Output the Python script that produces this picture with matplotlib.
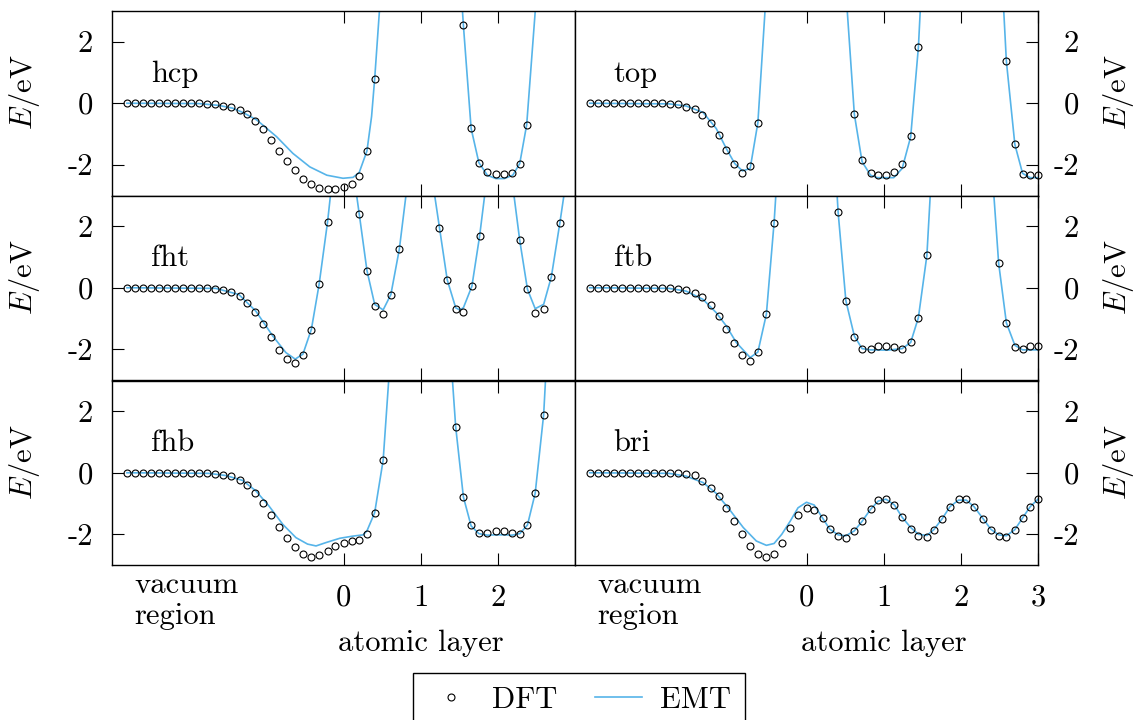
#!/usr/bin/env python3
"""DFT vs EMT energy profiles for six adsorption paths."""
import matplotlib
matplotlib.use("Agg")
import matplotlib.pyplot as plt
from matplotlib.lines import Line2D

plt.rcParams["font.family"] = "cmr10"
plt.rcParams["mathtext.fontset"] = "cm"
plt.rcParams["axes.formatter.use_mathtext"] = True
plt.rcParams["axes.unicode_minus"] = False
plt.rcParams["font.size"] = 22

EMT_COLOR = "#56b4e9"

# ---- hcp ----
hcp_dft_x = [-2.81, -2.71, -2.60, -2.50, -2.40, -2.29, -2.19, -2.08, -1.98, -1.87,
             -1.77, -1.67, -1.56, -1.46, -1.35, -1.25, -1.15, -1.05, -0.94, -0.84,
             -0.73, -0.63, -0.53, -0.42, -0.32, -0.21, -0.11, 0.00, 0.10, 0.20,
             0.30, 0.40, 1.55, 1.65, 1.75, 1.86, 1.97, 2.07, 2.18, 2.28, 2.37]
hcp_dft_y = [0, 0, 0, 0, 0, 0, 0, 0, 0, 0,
             -0.01, -0.04, -0.09, -0.13, -0.21, -0.36, -0.57, -0.85, -1.18, -1.54,
             -1.88, -2.18, -2.45, -2.62, -2.75, -2.78, -2.78, -2.73, -2.62, -2.35,
             -1.54, 0.79, 2.53, -0.82, -1.93, -2.25, -2.30, -2.30, -2.27, -1.96, -0.70]
hcp_emt_x = [-2.81, -1.88, -1.62, -1.44, -1.30, -1.13, -0.87, -0.66, -0.44, -0.22,
             -0.01, 0.12, 0.20, 0.30, 0.36, 0.40, 0.47,
             1.53, 1.55, 1.65, 1.75, 1.86, 1.97, 2.08, 2.19, 2.28, 2.37, 2.49]
hcp_emt_y = [0, -0.01, -0.07, -0.16, -0.31, -0.54, -1.09, -1.63, -2.07, -2.34,
             -2.44, -2.41, -2.25, -1.55, -0.43, 0.79, 3.3,
             3.3, 2.53, -0.82, -1.93, -2.34, -2.45, -2.45, -2.34, -1.96, -0.70, 3.3]

# ---- top ----
top_dft_x = [-2.81, -2.70, -2.60, -2.50, -2.39, -2.29, -2.18, -2.08, -1.97, -1.87,
             -1.77, -1.66, -1.56, -1.45, -1.35, -1.24, -1.14, -1.04, -0.94, -0.83,
             -0.73, -0.63, 0.62, 0.72, 0.83, 0.93, 1.03, 1.14, 1.24, 1.35, 1.45,
             2.59, 2.70, 2.80, 2.90, 3.00]
top_dft_y = [0, 0, 0, 0, 0, 0, 0, 0, 0, 0,
             -0.02, -0.04, -0.11, -0.20, -0.38, -0.65, -1.04, -1.51, -1.97, -2.28,
             -2.05, -0.63, -0.36, -1.86, -2.26, -2.32, -2.32, -2.25, -1.99, -1.07, 1.82,
             1.37, -1.34, -2.29, -2.32, -2.32]
top_emt_x = [-2.81, -1.78, -1.56, -1.34, -1.17, -1.04, -0.93, -0.83, -0.73, -0.63, -0.53,
             0.52, 0.62, 0.72, 0.83, 0.92, 1.13, 1.24, 1.35, 1.45, 1.48,
             2.55, 2.59, 2.70, 2.80, 2.90, 3.00]
top_emt_y = [0, -0.02, -0.09, -0.30, -0.82, -1.47, -1.96, -2.20, -2.12, -0.63, 3.3,
             3.3, -0.36, -1.90, -2.34, -2.42, -2.42, -2.12, -1.09, 1.82, 3.3,
             3.3, 1.37, -1.34, -2.28, -2.42, -2.42]

# ---- fht ----
fht_dft_x = [-2.81, -2.71, -2.60, -2.50, -2.40, -2.29, -2.19, -2.08, -1.98, -1.87,
             -1.77, -1.67, -1.56, -1.46, -1.35, -1.25, -1.15, -1.05, -0.94, -0.84,
             -0.73, -0.63, -0.53, -0.42, -0.32, -0.21, 0.20, 0.30, 0.40, 0.51, 0.61, 0.72,
             1.24, 1.34, 1.45, 1.55, 1.66, 1.76, 2.28, 2.38, 2.48, 2.59, 2.69, 2.80]
fht_dft_y = [0, 0, 0, 0, 0, 0, 0, 0, 0, 0,
             -0.02, -0.03, -0.08, -0.14, -0.27, -0.49, -0.79, -1.18, -1.59, -2.01,
             -2.32, -2.44, -2.18, -1.37, 0.11, 2.15, 2.40, 0.56, -0.59, -0.86, -0.22, 1.26,
             1.95, 0.26, -0.70, -0.78, 0.05, 1.68, 1.54, -0.05, -0.81, -0.68, 0.36, 2.11]
fht_emt_x = [-2.81, -1.66, -1.36, -1.14, -0.92, -0.75, -0.63, -0.53, -0.42, -0.32, -0.21, -0.16,
             0.15, 0.20, 0.30, 0.40, 0.51, 0.61, 0.72, 0.82,
             1.16, 1.24, 1.34, 1.45, 1.50, 1.55, 1.66, 1.76, 1.84,
             2.19, 2.28, 2.38, 2.48, 2.59, 2.69, 2.80, 2.87]
fht_emt_y = [0, -0.02, -0.22, -0.76, -1.57, -2.11, -2.32, -2.16, -1.35, 0.11, 2.15, 3.3,
             3.3, 2.40, 0.56, -0.54, -0.72, -0.22, 1.26, 3.3,
             3.3, 1.95, 0.26, -0.65, -0.72, -0.65, 0.05, 1.68, 3.3,
             3.3, 1.54, -0.05, -0.68, -0.54, 0.36, 2.11, 3.3]

# ---- ftb ----
ftb_dft_x = [-2.81, -2.70, -2.60, -2.50, -2.39, -2.29, -2.18, -2.08, -1.97, -1.87,
             -1.77, -1.66, -1.56, -1.45, -1.35, -1.24, -1.14, -1.04, -0.94, -0.83,
             -0.73, -0.63, -0.52, -0.42, 0.41, 0.51, 0.62, 0.72, 0.83, 0.93, 1.03, 1.14,
             1.24, 1.35, 1.45, 1.56, 2.49, 2.59, 2.70, 2.80, 2.90, 3.00]
ftb_dft_y = [0, 0, 0, 0, 0, 0, 0, 0, 0, 0,
             -0.01, -0.03, -0.08, -0.16, -0.31, -0.56, -0.91, -1.33, -1.79, -2.18,
             -2.38, -2.10, -0.86, 2.12, 2.45, -0.42, -1.60, -1.98, -1.98, -1.89, -1.89, -1.92,
             -1.98, -1.76, -0.97, 1.05, 0.80, -1.14, -1.92, -1.98, -1.89, -1.89]
ftb_emt_x = [-2.81, -1.78, -1.56, -1.34, -1.17, -1.04, -0.91, -0.73, -0.63, -0.52, -0.42, -0.39,
             0.39, 0.41, 0.51, 0.62, 0.72, 0.83, 1.05, 1.24, 1.35, 1.45, 1.56, 1.61,
             2.42, 2.49, 2.59, 2.70, 2.80, 2.90, 3.00]
ftb_emt_y = [0, -0.02, -0.11, -0.38, -0.81, -1.24, -1.78, -2.27, -2.09, -0.86, 2.12, 3.3,
             3.3, 2.45, -0.42, -1.57, -1.98, -2.02, -2.03, -1.98, -1.78, -0.97, 1.05, 3.3,
             3.3, 0.80, -1.14, -1.87, -2.02, -2.02, -2.02]

# ---- fhb ----
fhb_dft_x = [-2.81, -2.71, -2.60, -2.50, -2.40, -2.29, -2.19, -2.08, -1.98, -1.87,
             -1.77, -1.67, -1.56, -1.46, -1.35, -1.25, -1.15, -1.05, -0.94, -0.84,
             -0.73, -0.63, -0.53, -0.42, -0.32, -0.21, -0.11, 0.00, 0.10, 0.20, 0.30, 0.40, 0.51,
             1.45, 1.55, 1.65, 1.75, 1.86, 1.97, 2.07, 2.18, 2.28, 2.38, 2.48, 2.59]
fhb_dft_y = [0, 0, 0, 0, 0, 0, 0, 0, 0, 0,
             -0.01, -0.03, -0.08, -0.12, -0.23, -0.41, -0.66, -0.99, -1.37, -1.77,
             -2.13, -2.43, -2.65, -2.74, -2.68, -2.54, -2.39, -2.27, -2.22, -2.18, -1.98, -1.30, 0.41,
             1.49, -0.79, -1.71, -1.97, -1.95, -1.90, -1.90, -1.96, -1.98, -1.70, -0.67, 1.89]
fhb_emt_x = [-2.81, -1.75, -1.53, -1.31, -1.14, -0.97, -0.79, -0.62, -0.47, -0.36, -0.23,
             -0.05, 0.12, 0.25, 0.30, 0.40, 0.51, 0.59,
             1.40, 1.45, 1.55, 1.65, 1.75, 1.86, 1.97, 2.08, 2.18, 2.28, 2.38, 2.48, 2.59, 2.62]
fhb_emt_y = [0, -0.02, -0.09, -0.25, -0.59, -1.08, -1.68, -2.11, -2.32, -2.38, -2.27,
             -2.13, -2.06, -2.02, -1.89, -1.30, 0.41, 3.3,
             3.3, 1.49, -0.79, -1.73, -1.98, -2.03, -2.02, -2.02, -2.03, -1.98, -1.70, -0.67, 1.89, 3.3]

# ---- bri ----
bri_dft_x = [-2.81, -2.70, -2.60, -2.50, -2.39, -2.29, -2.18, -2.08, -1.97, -1.87,
             -1.77, -1.66, -1.56, -1.45, -1.35, -1.24, -1.14, -1.04, -0.94, -0.83,
             -0.73, -0.63, -0.52, -0.42, -0.32, -0.21, -0.11, 0.00, 0.10, 0.21,
             0.30, 0.41, 0.51, 0.62, 0.72, 0.83, 0.93, 1.03, 1.14, 1.24,
             1.35, 1.45, 1.56, 1.65, 1.76, 1.86, 1.97, 2.07, 2.17, 2.29,
             2.39, 2.49, 2.59, 2.70, 2.80, 2.90, 3.00]
bri_dft_y = [0, 0, 0, 0, 0, 0, 0, 0, 0, 0,
             -0.01, -0.02, -0.03, -0.06, -0.26, -0.48, -0.75, -1.16, -1.57, -1.99,
             -2.37, -2.65, -2.74, -2.63, -2.28, -1.81, -1.36, -1.15, -1.20, -1.48,
             -1.83, -2.06, -2.11, -1.91, -1.58, -1.19, -0.89, -0.84, -1.05, -1.45,
             -1.82, -2.05, -2.08, -1.85, -1.49, -1.10, -0.84, -0.84, -1.10, -1.50,
             -1.87, -2.05, -2.09, -1.85, -1.47, -1.10, -0.86]
bri_emt_x = [-2.81, -1.78, -1.56, -1.34, -1.17, -1.00, -0.82, -0.65, -0.52, -0.42, -0.32,
             -0.21, -0.11, 0.00, 0.10, 0.21, 0.30, 0.41, 0.51, 0.62, 0.72, 0.83, 0.93,
             1.03, 1.14, 1.24, 1.35, 1.45, 1.56, 1.65, 1.76, 1.86, 1.97, 2.07, 2.17,
             2.29, 2.39, 2.49, 2.59, 2.70, 2.80, 2.90, 3.00]
bri_emt_y = [0, -0.02, -0.11, -0.32, -0.67, -1.19, -1.78, -2.22, -2.36, -2.30, -2.00,
             -1.57, -1.14, -0.96, -1.05, -1.48, -1.83, -2.02, -2.05, -1.89, -1.58, -1.19, -0.92,
             -0.86, -1.05, -1.45, -1.78, -2.00, -2.04, -1.85, -1.49, -1.10, -0.89, -0.89, -1.10,
             -1.50, -1.84, -2.02, -2.05, -1.85, -1.47, -1.10, -0.86]

site_labels = ["hcp", "top", "fht", "ftb", "fhb", "bri"]
y_ticks = [-2, 0, 2]
y_tick_labels = ["-2", "0", "2"]
x_ticks_left = [0, 1, 2]
x_ticks_right = [0, 1, 2, 3]

PANELS = [
    (hcp_dft_x, hcp_dft_y, hcp_emt_x, hcp_emt_y),
    (top_dft_x, top_dft_y, top_emt_x, top_emt_y),
    (fht_dft_x, fht_dft_y, fht_emt_x, fht_emt_y),
    (ftb_dft_x, ftb_dft_y, ftb_emt_x, ftb_emt_y),
    (fhb_dft_x, fhb_dft_y, fhb_emt_x, fhb_emt_y),
    (bri_dft_x, bri_dft_y, bri_emt_x, bri_emt_y),
]

W, H = 1135, 720
fig = plt.figure(figsize=(W / 100, H / 100), dpi=100)

col_left = [112.3 / W, 575.0 / W]
ax_w = 463.0 / W
row_tops = [11.0, 195.5, 380.5]
ax_h = 184.5 / H

for i, (label, (dx, dy, ex, ey)) in enumerate(zip(site_labels, PANELS)):
    row, col = divmod(i, 2)
    bottom = (H - row_tops[row] - 184.5) / H
    ax = fig.add_axes([col_left[col], bottom, ax_w, ax_h])
    ax.plot(ex, ey, color=EMT_COLOR, lw=1.2, zorder=2)
    ax.plot(dx, dy, "o", ms=5.0, mfc="none", mec="black", mew=0.8,
            zorder=3, clip_on=False)
    ax.set_xlim(-3, 3)
    ax.set_ylim(-3, 3)
    for sp in ax.spines.values():
        sp.set_linewidth(1.0)

    xt = x_ticks_left if col == 0 else x_ticks_right
    ax.set_xticks(xt, [str(t) for t in xt])
    ax.tick_params(axis="x", direction="in", top=True, bottom=True,
                   length=8.3, width=0.8, pad=14, labelbottom=(row == 2))

    if col == 0:
        ax.set_yticks(y_ticks, y_tick_labels)
        ax.tick_params(axis="y", direction="in", left=True, right=False,
                       length=8.3, width=0.8, pad=14)
        ax.set_ylabel("$E$/eV")
        ax.yaxis.label.set_va("center")
        ax.yaxis.set_label_coords(-0.1886, 0.56)
    else:
        ax.set_yticks(y_ticks, y_tick_labels, ha="right")
        ax.tick_params(axis="y", direction="in", left=False, right=True,
                       labelleft=False, labelright=True,
                       length=8.3, width=0.8, pad=29.5)
        ax.yaxis.set_label_position("right")
        ax.set_ylabel("$E$/eV")
        ax.yaxis.label.set_va("center")
        ax.yaxis.set_label_coords(1.1735, 0.56)

    ax.text(-2.5, 0.70, label, ha="left", va="baseline")

    if row == 2:
        tr = ax.get_xaxis_transform()
        ax.text(-2.71, -0.151, "vacuum", transform=tr, ha="left", va="baseline")
        ax.text(-2.71, -0.318, "region", transform=tr, ha="left", va="baseline")
        ax.text(1.0, -0.467, "atomic layer", transform=tr, ha="center", va="baseline")

handles = [
    Line2D([], [], ls="none", marker="o", ms=5.0, mfc="none", mec="black", mew=0.8),
    Line2D([], [], color=EMT_COLOR, lw=1.2),
]
leg = fig.legend(handles, ["DFT", "EMT"], loc="upper center",
                 bbox_to_anchor=(579 / W, 1 - 673 / H), ncol=2,
                 frameon=True, fancybox=False, edgecolor="black", framealpha=1,
                 handlelength=1.54, handletextpad=0.6, columnspacing=1.2,
                 borderpad=0.45, borderaxespad=0)
leg.get_frame().set_linewidth(1.0)

fig.savefig("out.png", dpi=100)
